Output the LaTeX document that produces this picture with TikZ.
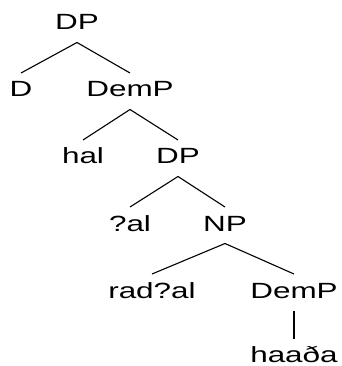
\documentclass[tikz,border=0pt]{standalone}
\usepackage{fontspec}
\newfontfamily\treefont[FakeStretch=1.43]{Liberation Sans}
\begin{document}
\begin{tikzpicture}[x=1pt,y=-1pt,
  lab/.style={anchor=base,inner sep=0pt,outer sep=0pt,text height=15pt,text depth=0pt,font=\treefont\fontsize{22}{26}\selectfont},
  edge/.style={line width=1.1pt}]
\useasboundingbox (0,0) rectangle (341,366);
\node[lab] (dp1) at (77,30) {DP};
\node[lab] (d) at (21,97) {D};
\node[lab] (demp1) at (130,97) {DemP};
\node[lab] (hal) at (83,164) {hal};
\node[lab] (dp2) at (178,164) {DP};
\node[lab] (al) at (130,231) {?al};
\node[lab] (np) at (225,231) {NP};
\node[lab] (radal) at (152,298) {rad?al};
\node[lab] (demp2) at (294,298) {DemP};
\node[lab] (haada) at (294,362.5) {haaða};
\foreach \p/\c in {dp1/d,dp1/demp1,demp1/hal,demp1/dp2,dp2/al,dp2/np,np/radal,np/demp2,demp2/haada}
  \draw[edge] ([yshift=-12.5pt]\p.south) -- ([yshift=9pt]\c.north);
\end{tikzpicture}
\end{document}
